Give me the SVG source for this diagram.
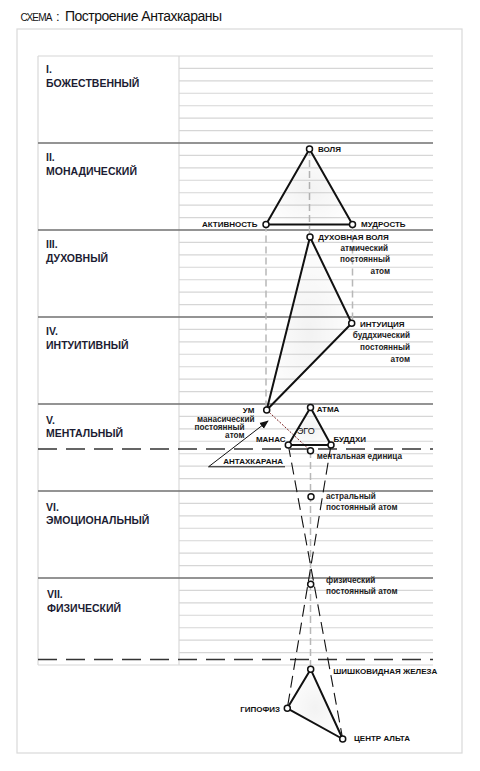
<svg xmlns="http://www.w3.org/2000/svg" width="480" height="771" viewBox="0 0 480 771">
<defs>
<style>
.frame{fill:none;stroke:#d9d9d9;stroke-width:1.2}
.thin{fill:none;stroke:#d6d6d6;stroke-width:1.1}
.bound{fill:none;stroke:#727272;stroke-width:1.6}
.plane{font-family:"Liberation Sans",Arial,sans-serif;font-weight:bold;font-size:10.5px;fill:#1c1c33}
.lab{font-family:"Liberation Sans",Arial,sans-serif;font-weight:bold;font-size:8px;fill:#111}
.sub{font-family:"Liberation Sans",Arial,sans-serif;font-weight:bold;font-size:8.2px;fill:#222}
.reg{font-family:"Liberation Sans",Arial,sans-serif;font-size:9px;fill:#111}
.ttl{font-family:"Liberation Sans",Arial,sans-serif;fill:#111}
.gdash{fill:none;stroke:#b8b8b8;stroke-width:1.5;stroke-dasharray:7 4}
.bdash{fill:none;stroke:#111;stroke-width:1.1;stroke-dasharray:12 6}
.hdash{fill:none;stroke:#333;stroke-width:1.5;stroke-dasharray:19 9}
.tri{fill:url(#tg);stroke:#111;stroke-width:2;stroke-linejoin:round}
.pt{fill:#fff;stroke:#111;stroke-width:1.5}
</style>
<radialGradient id="tg" cx="0.5" cy="0.55" r="0.6">
<stop offset="0" stop-color="#000" stop-opacity="0.05"/>
<stop offset="1" stop-color="#000" stop-opacity="0"/>
</radialGradient>
<marker id="ah" viewBox="0 0 10 10" refX="9" refY="5" markerWidth="9" markerHeight="9" markerUnits="userSpaceOnUse" orient="auto">
<path d="M0,1 L10,5 L0,9 Z" fill="#111"/>
</marker>
</defs>

<g id="title">
<text class="ttl" x="20.5" y="21" font-size="10" textLength="32">СХЕМА</text>
<text class="ttl" x="56" y="21" font-size="13">:</text>
<text class="ttl" x="65" y="21" font-size="14" textLength="157">Построение Антахкараны</text>
</g>

<g id="grid">
<rect class="frame" x="17" y="29" width="445" height="724"/>
<path class="thin" d="M38,56 H433 M38,665 H433 M38,56 V665 M179,56 V665
M179,68.4H433M179,80.9H433M179,93.3H433M179,105.7H433M179,118.1H433M179,130.6H433
M179,155.4H433M179,167.9H433M179,180.3H433M179,192.7H433M179,205.1H433M179,217.6H433
M179,242.4H433M179,254.9H433M179,267.3H433M179,279.7H433M179,292.1H433M179,304.6H433
M179,329.4H433M179,341.9H433M179,354.3H433M179,366.7H433M179,379.1H433M179,391.6H433
M179,416.4H433M179,428.9H433M179,441.3H433M179,453.7H433M179,466.1H433M179,478.6H433
M179,503.4H433M179,515.9H433M179,528.3H433M179,540.7H433M179,553.1H433M179,565.6H433
M179,590.4H433M179,602.9H433M179,615.3H433M179,627.7H433M179,640.1H433M179,652.6H433"/>
<path class="bound" d="M38,143H433M38,230H433M38,317H433M38,404H433M38,491H433M38,578H433"/>
<path class="hdash" d="M38,449H433 M38,659.5H433"/>
</g>

<g id="planes">
<text class="plane" x="46" y="73">I.</text>
<text class="plane" x="46" y="87">БОЖЕСТВЕННЫЙ</text>
<text class="plane" x="46" y="161">II.</text>
<text class="plane" x="46" y="175">МОНАДИЧЕСКИЙ</text>
<text class="plane" x="46" y="248">III.</text>
<text class="plane" x="46" y="262">ДУХОВНЫЙ</text>
<text class="plane" x="46" y="335">IV.</text>
<text class="plane" x="46" y="349">ИНТУИТИВНЫЙ</text>
<text class="plane" x="46" y="424">V.</text>
<text class="plane" x="46" y="437">МЕНТАЛЬНЫЙ</text>
<text class="plane" x="46" y="511">VI.</text>
<text class="plane" x="46" y="524">ЭМОЦИОНАЛЬНЫЙ</text>
<text class="plane" x="47" y="598">VII.</text>
<text class="plane" x="47" y="612">ФИЗИЧЕСКИЙ</text>
</g>

<g id="connectors">
<path class="gdash" d="M309.5,149 V237"/>
<path class="gdash" d="M266,224.5 V410"/>
<path class="gdash" d="M352.5,224.5 V323"/>
<path class="gdash" d="M310.5,451 V669"/>
<path class="bdash" d="M288.3,445 L342.7,739"/>
<path class="bdash" d="M331,445 L287.3,708.3"/>
<path d="M266.7,410 L310.5,450.7" fill="none" stroke="#7a1f1f" stroke-width="1" stroke-dasharray="2 1.5"/>
<path d="M208.5,466.8 L268,421" fill="none" stroke="#111" stroke-width="1" marker-end="url(#ah)"/>
<path d="M208.5,466.8 H285" fill="none" stroke="#111" stroke-width="1"/>
</g>

<g id="monad-triad">
<polygon class="tri" points="309.5,149 266,224.5 352.5,224.5"/>
<circle class="pt" cx="309.5" cy="149" r="3"/>
<circle class="pt" cx="266" cy="224.5" r="3"/>
<circle class="pt" cx="352.5" cy="224.5" r="3"/>
<text class="lab" x="318" y="152">ВОЛЯ</text>
<text class="lab" x="257.5" y="227" text-anchor="end">АКТИВНОСТЬ</text>
<text class="lab" x="361" y="227">МУДРОСТЬ</text>
</g>

<g id="spiritual-triad">
<polygon class="tri" points="310,237 351.7,323.3 266.7,410"/>
<circle class="pt" cx="310" cy="237" r="3"/>
<circle class="pt" cx="351.7" cy="323.3" r="3"/>
<circle class="pt" cx="266.7" cy="410" r="3"/>
<text class="lab" x="318.3" y="240">ДУХОВНАЯ ВОЛЯ</text>
<text class="sub" x="388" y="250.7" text-anchor="end">атмический</text>
<text class="sub" x="390" y="262" text-anchor="end">постоянный</text>
<text class="sub" x="390" y="274" text-anchor="end">атом</text>
<text class="lab" x="360" y="326.5">ИНТУИЦИЯ</text>
<text class="sub" x="410" y="338" text-anchor="end">буддхический</text>
<text class="sub" x="410" y="349.5" text-anchor="end">постоянный</text>
<text class="sub" x="410" y="361.7" text-anchor="end">атом</text>
<text class="lab" x="254.5" y="412.5" text-anchor="end">УМ</text>
<text class="sub" x="254.5" y="421.7" text-anchor="end">манасический</text>
<text class="sub" x="244.5" y="430" text-anchor="end">постоянный</text>
<text class="sub" x="244.5" y="438" text-anchor="end">атом</text>
</g>

<g id="ego-triad">
<polygon class="tri" points="310.5,407.5 288.3,445 331,445"/>
<circle class="pt" cx="310.5" cy="407.5" r="3"/>
<circle class="pt" cx="288.3" cy="445" r="3"/>
<circle class="pt" cx="331" cy="445" r="3"/>
<text class="lab" x="316.7" y="412">АТМА</text>
<text class="reg" x="305.8" y="433.5" text-anchor="middle">ЭГО</text>
<text class="lab" x="285.5" y="441.5" text-anchor="end">МАНАС</text>
<text class="lab" x="333.5" y="441.5">БУДДХИ</text>
</g>

<g id="mental-unit">
<circle class="pt" cx="310.5" cy="450.7" r="3"/>
<text class="sub" x="316.7" y="459.3">ментальная единица</text>
</g>

<g id="antahkarana">
<text class="lab" x="223.3" y="463.5">АНТАХКАРАНА</text>
</g>

<g id="astral-atom">
<circle class="pt" cx="311" cy="496.7" r="3"/>
<text class="sub" x="326" y="498.5">астральный</text>
<text class="sub" x="326" y="509.5">постоянный атом</text>
</g>

<g id="physical-atom">
<circle class="pt" cx="310.7" cy="584.3" r="3"/>
<text class="sub" x="326" y="582.5">физический</text>
<text class="sub" x="326" y="593.5">постоянный атом</text>
</g>

<g id="glands">
<polygon class="tri" points="310.7,669.3 287.3,708.3 342.7,739"/>
<circle class="pt" cx="310.7" cy="669.3" r="3"/>
<circle class="pt" cx="287.3" cy="708.3" r="3"/>
<circle class="pt" cx="342.7" cy="739" r="3"/>
<text class="lab" x="333.3" y="674">ШИШКОВИДНАЯ ЖЕЛЕЗА</text>
<text class="lab" x="280" y="711.7" text-anchor="end">ГИПОФИЗ</text>
<text class="lab" x="354" y="741">ЦЕНТР АЛЬТА</text>
</g>
</svg>
